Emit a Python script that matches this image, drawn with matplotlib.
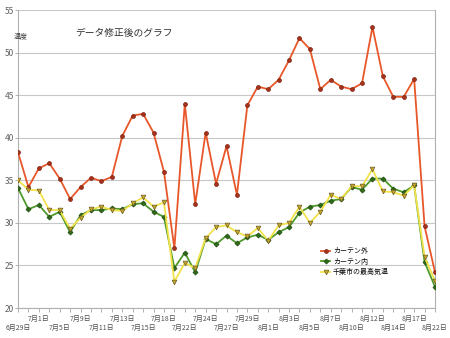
import matplotlib
matplotlib.use("Agg")
import matplotlib.pyplot as plt

plt.rcParams['font.family'] = ['Noto Sans CJK JP', 'DejaVu Sans']

# labelled dates (every other measurement day)
date_labels = ["6月29日", "7月1日", "7月5日", "7月9日", "7月11日", "7月13日", "7月15日",
               "7月18日", "7月22日", "7月24日", "7月27日", "7月29日", "8月1日", "8月3日",
               "8月5日", "8月7日", "8月10日", "8月12日", "8月14日", "8月17日", "8月22日"]

# カーテン外
outside = [38.3, 34.2, 36.4, 37.0, 35.2, 32.8, 34.2, 35.3, 34.9, 35.4,
           40.2, 42.6, 42.8, 40.6, 36.0, 27.0, 44.0, 32.2, 40.6, 34.6,
           39.0, 33.3, 43.8, 46.0, 45.7, 46.8, 49.1, 51.7, 50.4, 45.7,
           46.8, 46.0, 45.7, 46.4, 53.0, 47.2, 44.8, 44.8, 46.9, 29.6, 24.2]
# カーテン内
inside = [34.1, 31.6, 32.1, 30.7, 31.3, 28.9, 30.9, 31.5, 31.5, 31.7,
          31.6, 32.2, 32.3, 31.3, 30.7, 24.7, 26.5, 24.2, 28.1, 27.5,
          28.5, 27.6, 28.3, 28.6, 28.0, 28.9, 29.5, 31.2, 31.9, 32.1,
          32.6, 32.8, 34.2, 33.9, 35.2, 35.2, 34.0, 33.6, 34.4, 25.4, 22.5]
# 千葉市の最高気温
chiba_max = [35.0, 33.9, 33.8, 31.5, 31.5, 29.3, 30.6, 31.6, 31.9, 31.5,
             31.4, 32.3, 33.0, 31.9, 32.4, 23.1, 25.3, 24.7, 28.2, 29.5,
             29.7, 28.9, 28.4, 29.4, 27.9, 29.7, 30.0, 31.9, 30.0, 31.3,
             33.3, 32.8, 34.3, 34.3, 36.3, 33.7, 33.6, 33.2, 34.4, 26.0, 23.2]

x = list(range(len(outside)))

fig = plt.figure(figsize=(4.5, 3.38), dpi=100)
ax = fig.add_axes([18 / 450, 1 - 308 / 338, 417 / 450, 298 / 338])

ax.plot(x, outside, color='#e8572a', lw=1.3, marker='o', ms=2.8,
        mfc='#a8321a', mec='#7a2010', mew=0.5, label='カーテン外', zorder=3)
ax.plot(x, inside, color='#4f9a2a', lw=1.3, marker='D', ms=2.6,
        mfc='#2f6a18', mec='#1f4a10', mew=0.5, label='カーテン内', zorder=4)
ax.plot(x, chiba_max, color='#f2e24a', lw=1.3, marker='v', ms=3.4,
        mfc='#c9a830', mec='#6a5a20', mew=0.5, label='千葉市の最高気温', zorder=5)

ax.set_xlim(0, len(x) - 1)
ax.set_ylim(20, 55)
ax.set_yticks(range(20, 56, 5))
ax.yaxis.grid(True, color='#c8c8c8', lw=0.8)
ax.set_axisbelow(True)

ax.set_xticks(list(range(0, len(x), 2)))
ax.set_xticklabels(date_labels)
ax.set_xticks(x, minor=True)

for s in ['left', 'bottom', 'right']:
    ax.spines[s].set_color('#b0b0b0')
    ax.spines[s].set_linewidth(0.8)
ax.spines['top'].set_visible(False)

ax.tick_params(axis='x', which='both', length=3, color='#b0b0b0', width=0.7,
               labelsize=5, labelcolor='#505050', pad=2)
ax.tick_params(axis='y', length=2, color='#b0b0b0', width=0.7,
               labelsize=6, labelcolor='#606060', pad=1)

# stagger the date labels over two rows
for i, tick in enumerate(ax.xaxis.get_major_ticks()):
    if i % 2 == 0:
        tick.set_pad(8.5)

fig.text(75 / 450, 1 - 33 / 338, 'データ修正後のグラフ', fontsize=7, color='#303030', va='center')
fig.text(14 / 450, 1 - 36 / 338, '温度', fontsize=5, color='#404040', va='center')

ax.legend(loc='upper left', bbox_to_anchor=(0.715, 0.22), frameon=False,
          fontsize=5, handlelength=1.3, handletextpad=0.4, labelspacing=0.35,
          borderpad=0.2)

fig.savefig('out.png', dpi=100)
